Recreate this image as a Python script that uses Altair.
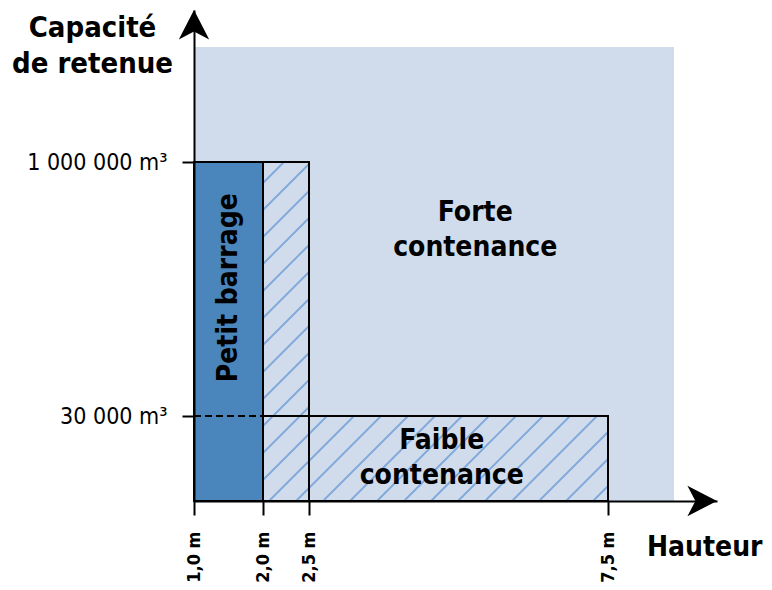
import altair as alt
import pandas as pd
import numpy as np

# ---------------- scale geometry (piecewise, schematic) ----------------
X_DOMAIN = [1.0, 2.0, 2.5, 7.5, 9.0, 10.0]
X_RANGE = [0, 69, 115, 414, 480, 523]
Y_DOMAIN = [0, 30000, 1000000, 2000000, 3000000]
Y_RANGE = [491, 406, 152, 37, 0]

# ---------------- ticks ----------------
X_TICKS = [1.0, 2.0, 2.5, 7.5]
X_TICK_LABELS = ["1,0 m", "2,0 m", "2,5 m", "7,5 m"]
Y_TICKS = [30000, 1000000]
Y_TICK_LABELS = ["30 000 m³", "1 000 000 m³"]

# ---------------- zones ----------------
BG_X = [1.0, 9.0]
BG_Y = [0, 2000000]
PETIT_X = [1.0, 2.0]
PETIT_Y = [0, 1000000]
OUTLINE_NAMES = ["colonne", "faible"]
OUTLINE_X0 = [2.0, 2.0]
OUTLINE_X1 = [2.5, 7.5]
OUTLINE_Y0 = [0, 0]
OUTLINE_Y1 = [1000000, 30000]
HATCH_X0 = [2.0, 2.5]
HATCH_X1 = [2.5, 7.5]
HATCH_Y0 = [0, 0]
HATCH_Y1 = [1000000, 30000]
DASH_X = [1.0, 2.0]
DASH_Y = [30000]

# ---------------- labels ----------------
LABEL_TEXT = ["Forte\ncontenance", "Faible\ncontenance"]
LABEL_X = [5.28, 4.72]
LABEL_Y = [805000, 21200]
VLABEL_TEXT = ["Petit barrage"]
VLABEL_X = [1.5]
VLABEL_Y = [520000]

FONT = "'DejaVu Sans Condensed', 'Liberation Sans Narrow', 'DejaVu Sans', sans-serif"
DARK = "#4a86bb"
LIGHT = "#d0dcec"
HATCH = "#7ea8da"

xs = alt.Scale(domain=X_DOMAIN, range=X_RANGE, nice=False, zero=False)
ys = alt.Scale(domain=Y_DOMAIN, range=Y_RANGE, nice=False, zero=False)

x_expr = "[" + ",".join(f"'{t}'" for t in X_TICK_LABELS) + "][indexof([" + ",".join(str(v) for v in X_TICKS) + "], datum.value)]"
y_expr = "[" + ",".join(f"'{t}'" for t in Y_TICK_LABELS) + "][indexof([" + ",".join(str(v) for v in Y_TICKS) + "], datum.value)]"

x_axis = alt.Axis(
    values=X_TICKS, labelExpr=x_expr, labelAngle=-90, labelFont=FONT,
    labelFontSize=18, labelFontWeight="bold", labelPadding=16, labelColor="black",
    labelFlush=False, labelOverlap=False, labelBound=False,
    tickSize=14, tickWidth=2, tickColor="black", domainColor="black", domainWidth=2,
    grid=False, zindex=2,
    title="Hauteur", titleFont=FONT, titleFontSize=28, titleFontWeight="bold",
    titleColor="black", titleAngle=0, titleAlign="right", titleX=568, titleY=54,
    titleBaseline="alphabetic",
)
y_axis = alt.Axis(
    values=Y_TICKS, labelExpr=y_expr, labelFont=FONT, labelFontSize=23,
    labelFontWeight="normal", labelPadding=15, labelColor="black",
    labelFlush=False, labelOverlap=False, labelBound=False,
    tickSize=12, tickWidth=2, tickColor="black", domainColor="black", domainWidth=2,
    grid=False, zindex=2,
    title=["Capacité", "de retenue"], titleFont=FONT, titleFontSize=29,
    titleFontWeight="bold", titleColor="black", titleAngle=0, titleAlign="center",
    titleX=-102, titleY=3, titleBaseline="top", titleLineHeight=36,
)

def X(f):
    return alt.X(f, type="quantitative", scale=xs, axis=x_axis)

def Y(f):
    return alt.Y(f, type="quantitative", scale=ys, axis=y_axis)

# background
bg = alt.Chart(pd.DataFrame({"x0": [BG_X[0]], "x1": [BG_X[1]], "y0": [BG_Y[0]], "y1": [BG_Y[1]]})).mark_rect(
    color=LIGHT).encode(x=X("x0"), x2="x1", y=Y("y0"), y2="y1")

petit = alt.Chart(pd.DataFrame({"x0": [PETIT_X[0]], "x1": [PETIT_X[1]], "y0": [PETIT_Y[0]], "y1": [PETIT_Y[1]]})).mark_rect(
    fill=DARK, stroke="black", strokeWidth=2).encode(x=X("x0"), x2="x1", y=Y("y0"), y2="y1")

# hatch lines (45 deg pattern, computed in screen space then mapped back through the scales)
HATCH_STEP = 27
HATCH_C0 = 836
def to_px_x(v):
    return float(np.interp(v, X_DOMAIN, X_RANGE))
def to_px_y(v):
    return float(np.interp(v, Y_DOMAIN, Y_RANGE))
def from_px_x(p):
    return float(np.interp(p, X_RANGE, X_DOMAIN))
def from_px_y(p):
    return float(np.interp(p, Y_RANGE[::-1], Y_DOMAIN[::-1]))

segs = []
for a0, a1, b0, b1 in zip(HATCH_X0, HATCH_X1, HATCH_Y0, HATCH_Y1):
    px0, px1 = to_px_x(a0), to_px_x(a1)
    ptop, pbot = to_px_y(b1), to_px_y(b0)
    kmin = int(np.floor((px0 + ptop - HATCH_C0) / HATCH_STEP)) - 1
    kmax = int(np.ceil((px1 + pbot - HATCH_C0) / HATCH_STEP)) + 1
    for k in range(kmin, kmax + 1):
        c = HATCH_C0 + k * HATCH_STEP
        s = max(px0, c - pbot)
        e = min(px1, c - ptop)
        if e - s > 0.5:
            segs.append({"hx": from_px_x(s), "hy": from_px_y(c - s),
                         "hx2": from_px_x(e), "hy2": from_px_y(c - e)})
hatch = alt.Chart(pd.DataFrame(segs)).mark_rule(color=HATCH, strokeWidth=1.8).encode(
    x=X("hx"), y=Y("hy"), x2="hx2", y2="hy2")

outlines = alt.Chart(pd.DataFrame({"name": OUTLINE_NAMES, "x0": OUTLINE_X0, "x1": OUTLINE_X1,
                                   "y0": OUTLINE_Y0, "y1": OUTLINE_Y1})).mark_rect(
    fillOpacity=0, stroke="black", strokeWidth=2).encode(x=X("x0"), x2="x1", y=Y("y0"), y2="y1")

dash = alt.Chart(pd.DataFrame({"x0": [DASH_X[0]], "x1": [DASH_X[1]], "y": DASH_Y})).mark_rule(
    color="black", strokeWidth=2, strokeDash=[7, 4]).encode(x=X("x0"), x2="x1", y=Y("y"))

labels = alt.Chart(pd.DataFrame({"t": LABEL_TEXT, "x": LABEL_X, "y": LABEL_Y})).mark_text(
    font=FONT, fontSize=28, fontWeight="bold", color="black", lineBreak="\n", lineHeight=35,
    align="center", baseline="middle").encode(x=X("x"), y=Y("y"), text="t")

vlabel = alt.Chart(pd.DataFrame({"t": VLABEL_TEXT, "x": VLABEL_X, "y": VLABEL_Y})).mark_text(
    font=FONT, fontSize=28, fontWeight="bold", color="black", angle=270,
    align="center", baseline="middle").encode(x=X("x"), y=Y("y"), text="t")

# axis arrow heads
UP = "M0,0 L0.95,1.85 L0,1.35 L-0.95,1.85 Z"
RIGHT = "M0,0 L-1.85,-0.95 L-1.35,0 L-1.85,0.95 Z"
arrow_up = alt.Chart(pd.DataFrame({"x": [X_DOMAIN[0]], "y": [Y_DOMAIN[-1]]})).mark_point(
    shape=UP, filled=True, size=1024, color="black", opacity=1, strokeWidth=0).encode(x=X("x"), y=Y("y"))
arrow_right = alt.Chart(pd.DataFrame({"x": [X_DOMAIN[-1]], "y": [Y_DOMAIN[0]]})).mark_point(
    shape=RIGHT, filled=True, size=1024, color="black", opacity=1, strokeWidth=0).encode(x=X("x"), y=Y("y"))

chart = alt.layer(bg, petit, hatch, outlines, dash, labels, vlabel, arrow_up, arrow_right).properties(
    width=523, height=491,
    autosize=alt.AutoSizeParams(type="none"),
    padding={"left": 186, "top": 2, "right": 47, "bottom": 81},
).configure_view(strokeWidth=0)

chart.save("out.html", embed_options={"renderer": "svg", "actions": False})
